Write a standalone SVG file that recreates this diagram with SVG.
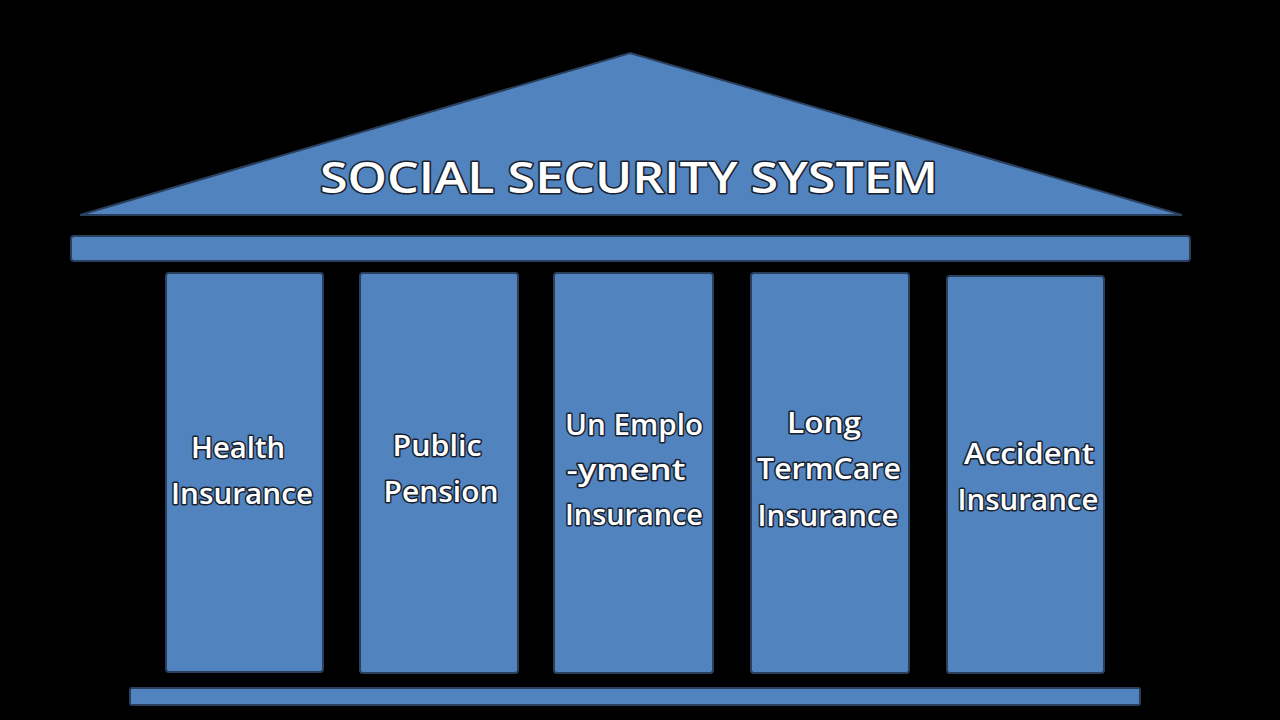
<svg xmlns="http://www.w3.org/2000/svg" width="1280" height="720" viewBox="0 0 1280 720">
<defs>
<style>
.blk{fill:#5183bf;stroke:#2a3f5c;stroke-width:2}
.t{font-family:"Open Sans","Liberation Sans",sans-serif;font-weight:600;fill:#ffffff;stroke:#1a2230;stroke-width:3;paint-order:stroke;stroke-linejoin:round;text-anchor:middle}
.tt{font-size:44px}
.ct{font-size:29px}
</style>
</defs>
<rect width="1280" height="720" fill="#000000"/>
<g id="roof">
<polygon class="blk" points="630,53 1182,215 80,215"/>
<text class="t tt" x="629" y="193" textLength="618" lengthAdjust="spacingAndGlyphs">SOCIAL SECURITY SYSTEM</text>
</g>
<g id="beam">
<rect class="blk" x="71" y="236" width="1119" height="25" rx="3"/>
</g>
<g id="col-health">
<rect class="blk" x="166" y="273" width="157" height="399" rx="3"/>
<text class="t ct" x="238" y="458" textLength="94" lengthAdjust="spacingAndGlyphs">Health</text>
<text class="t ct" x="242" y="504" textLength="142" lengthAdjust="spacingAndGlyphs">Insurance</text>
</g>
<g id="col-pension">
<rect class="blk" x="360" y="273" width="158" height="400" rx="3"/>
<text class="t ct" x="437" y="456" textLength="89" lengthAdjust="spacingAndGlyphs">Public</text>
<text class="t ct" x="441" y="502" textLength="115" lengthAdjust="spacingAndGlyphs">Pension</text>
</g>
<g id="col-unemployment">
<rect class="blk" x="554" y="273" width="159" height="400" rx="3"/>
<text class="t ct" x="634" y="435" textLength="138" lengthAdjust="spacingAndGlyphs">Un Emplo</text>
<text class="t ct" x="626" y="480" textLength="119" lengthAdjust="spacingAndGlyphs">-yment</text>
<text class="t ct" x="634" y="525" textLength="138" lengthAdjust="spacingAndGlyphs">Insurance</text>
</g>
<g id="col-longterm">
<rect class="blk" x="751" y="273" width="158" height="400" rx="3"/>
<text class="t ct" x="824" y="433" textLength="74" lengthAdjust="spacingAndGlyphs">Long</text>
<text class="t ct" x="829" y="479" textLength="144" lengthAdjust="spacingAndGlyphs">TermCare</text>
<text class="t ct" x="828" y="526" textLength="141" lengthAdjust="spacingAndGlyphs">Insurance</text>
</g>
<g id="col-accident">
<rect class="blk" x="947" y="276" width="157" height="397" rx="3"/>
<text class="t ct" x="1029" y="464" textLength="130" lengthAdjust="spacingAndGlyphs">Accident</text>
<text class="t ct" x="1028" y="510" textLength="141" lengthAdjust="spacingAndGlyphs">Insurance</text>
</g>
<g id="base">
<rect class="blk" x="130" y="688" width="1010" height="17" rx="2"/>
</g>
<g id="connectors"></g>
</svg>
